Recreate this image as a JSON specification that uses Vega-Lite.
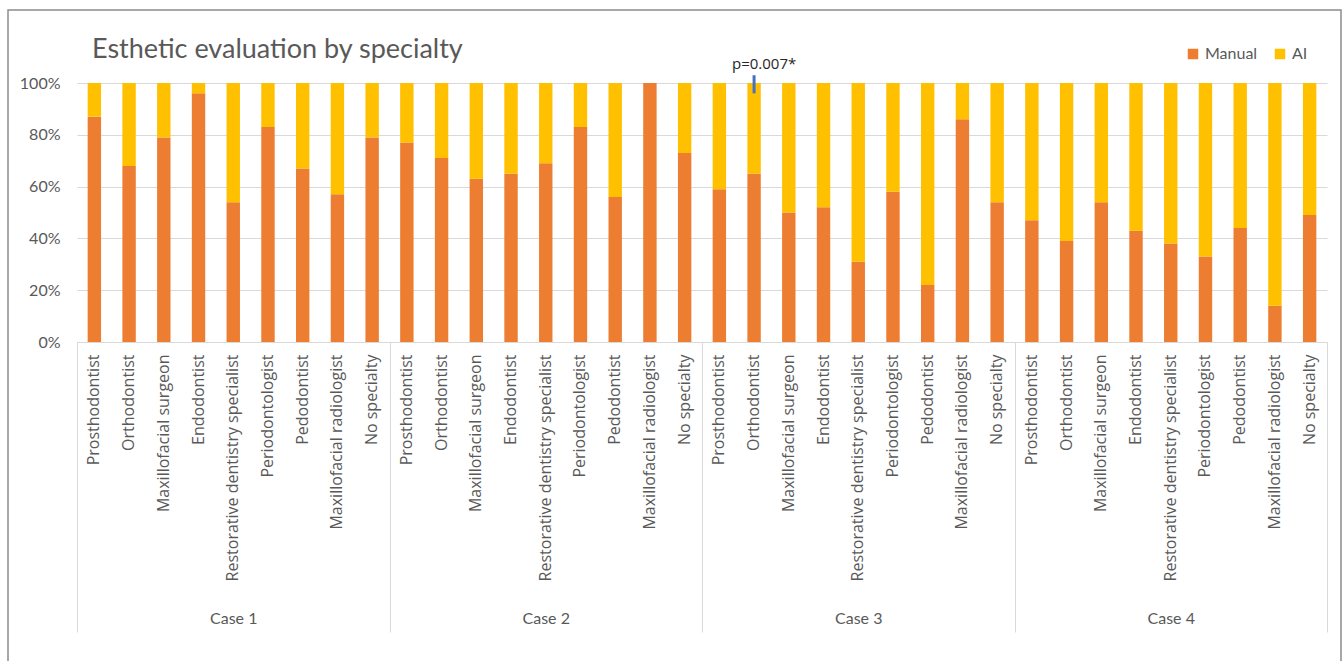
{
  "$schema": "https://vega.github.io/schema/vega-lite/v6.json",
  "width": 1250,
  "height": 259,
  "autosize": {"type": "none"},
  "padding": {"left": 77, "top": 83, "right": 16, "bottom": 319},
  "background": "white",
  "title": {
    "text": "Esthetic evaluation by specialty",
    "anchor": "start",
    "frame": "group",
    "dx": 15,
    "offset": -76,
    "baseline": "alphabetic",
    "font": "Lato",
    "fontSize": 27,
    "fontWeight": "normal",
    "color": "#595959"
  },
  "data": {
    "values": [
      {"bar": "Case 1 · Prosthodontist", "case": "Case 1", "Manual": 87, "AI": 13},
      {"bar": "Case 1 · Orthodontist", "case": "Case 1", "Manual": 68, "AI": 32},
      {"bar": "Case 1 · Maxillofacial surgeon", "case": "Case 1", "Manual": 79, "AI": 21},
      {"bar": "Case 1 · Endodontist", "case": "Case 1", "Manual": 96, "AI": 4},
      {"bar": "Case 1 · Restorative dentistry specialist", "case": "Case 1", "Manual": 54, "AI": 46},
      {"bar": "Case 1 · Periodontologist", "case": "Case 1", "Manual": 83, "AI": 17},
      {"bar": "Case 1 · Pedodontist", "case": "Case 1", "Manual": 67, "AI": 33},
      {"bar": "Case 1 · Maxillofacial radiologist", "case": "Case 1", "Manual": 57, "AI": 43},
      {"bar": "Case 1 · No specialty", "case": "Case 1", "Manual": 79, "AI": 21},
      {"bar": "Case 2 · Prosthodontist", "case": "Case 2", "Manual": 77, "AI": 23},
      {"bar": "Case 2 · Orthodontist", "case": "Case 2", "Manual": 71, "AI": 29},
      {"bar": "Case 2 · Maxillofacial surgeon", "case": "Case 2", "Manual": 63, "AI": 37},
      {"bar": "Case 2 · Endodontist", "case": "Case 2", "Manual": 65, "AI": 35},
      {"bar": "Case 2 · Restorative dentistry specialist", "case": "Case 2", "Manual": 69, "AI": 31},
      {"bar": "Case 2 · Periodontologist", "case": "Case 2", "Manual": 83, "AI": 17},
      {"bar": "Case 2 · Pedodontist", "case": "Case 2", "Manual": 56, "AI": 44},
      {"bar": "Case 2 · Maxillofacial radiologist", "case": "Case 2", "Manual": 100, "AI": 0},
      {"bar": "Case 2 · No specialty", "case": "Case 2", "Manual": 73, "AI": 27},
      {"bar": "Case 3 · Prosthodontist", "case": "Case 3", "Manual": 59, "AI": 41},
      {"bar": "Case 3 · Orthodontist", "case": "Case 3", "Manual": 65, "AI": 35},
      {"bar": "Case 3 · Maxillofacial surgeon", "case": "Case 3", "Manual": 50, "AI": 50},
      {"bar": "Case 3 · Endodontist", "case": "Case 3", "Manual": 52, "AI": 48},
      {"bar": "Case 3 · Restorative dentistry specialist", "case": "Case 3", "Manual": 31, "AI": 69},
      {"bar": "Case 3 · Periodontologist", "case": "Case 3", "Manual": 58, "AI": 42},
      {"bar": "Case 3 · Pedodontist", "case": "Case 3", "Manual": 22, "AI": 78},
      {"bar": "Case 3 · Maxillofacial radiologist", "case": "Case 3", "Manual": 86, "AI": 14},
      {"bar": "Case 3 · No specialty", "case": "Case 3", "Manual": 54, "AI": 46},
      {"bar": "Case 4 · Prosthodontist", "case": "Case 4", "Manual": 47, "AI": 53},
      {"bar": "Case 4 · Orthodontist", "case": "Case 4", "Manual": 39, "AI": 61},
      {"bar": "Case 4 · Maxillofacial surgeon", "case": "Case 4", "Manual": 54, "AI": 46},
      {"bar": "Case 4 · Endodontist", "case": "Case 4", "Manual": 43, "AI": 57},
      {"bar": "Case 4 · Restorative dentistry specialist", "case": "Case 4", "Manual": 38, "AI": 62},
      {"bar": "Case 4 · Periodontologist", "case": "Case 4", "Manual": 33, "AI": 67},
      {"bar": "Case 4 · Pedodontist", "case": "Case 4", "Manual": 44, "AI": 56},
      {"bar": "Case 4 · Maxillofacial radiologist", "case": "Case 4", "Manual": 14, "AI": 86},
      {"bar": "Case 4 · No specialty", "case": "Case 4", "Manual": 49, "AI": 51}
    ]
  },
  "transform": [{"fold": ["Manual", "AI"], "as": ["series", "pct"]}],
  "layer": [
    {
      "layer": [
        {
          "mark": {"type": "bar"},
          "encoding": {
            "x": {
              "field": "bar",
              "type": "nominal",
              "sort": null,
              "scale": {"type": "band", "paddingInner": 0.614, "paddingOuter": 0.307},
              "axis": {
                "orient": "bottom",
                "title": null,
                "grid": false,
                "ticks": false,
                "domain": true,
                "domainColor": "#d9d9d9",
                "domainWidth": 1,
                "labelAngle": -90,
                "labelPadding": 12,
                "labelLimit": 400,
                "labelFont": "Open Sans",
                "labelFontSize": 16,
                "labelColor": "#595959",
                "labelExpr": "split(datum.label, ' · ')[1]"
              }
            },
            "y": {
              "field": "pct",
              "type": "quantitative",
              "stack": "normalize",
              "scale": {"domain": [0, 1], "nice": false},
              "axis": {
                "title": null,
                "values": [0, 0.2, 0.4, 0.6, 0.8, 1],
                "format": ".0%",
                "grid": true,
                "gridColor": "#d9d9d9",
                "domain": false,
                "ticks": false,
                "labelPadding": 17,
                "labelFont": "Lato",
                "labelFontSize": 16,
                "labelColor": "#595959"
              }
            },
            "color": {
              "field": "series",
              "type": "nominal",
              "scale": {"domain": ["Manual", "AI"], "range": ["#ED7D31", "#FFC000"]},
              "legend": {
                "title": null,
                "orient": "none",
                "direction": "horizontal",
                "legendX": 1108,
                "legendY": -37,
                "symbolType": "square",
                "symbolSize": 110,
                "symbolStrokeWidth": 0,
                "labelFont": "Lato",
                "labelFontSize": 16,
                "labelColor": "#595959",
                "columnPadding": 14,
                "labelOffset": 4
              }
            },
            "order": {"field": "series", "sort": "descending"}
          }
        },
        {
          "data": {"values": [{"bar": "Case 3 · Orthodontist", "note": "p=0.007*"}]},
          "mark": {"type": "text", "font": "Open Sans", "fontSize": 15, "color": "#262626", "baseline": "middle", "dx": 10},
          "encoding": {
            "x": {"field": "bar", "type": "nominal", "sort": null},
            "y": {"datum": 1.073, "type": "quantitative", "scale": {"domain": [0, 1], "nice": false}},
            "text": {"field": "note"}
          }
        },
        {
          "data": {"values": [{"bar": "Case 3 · Orthodontist"}]},
          "mark": {"type": "rule", "color": "#4472C4", "strokeWidth": 3},
          "encoding": {
            "x": {"field": "bar", "type": "nominal", "sort": null},
            "y": {"datum": 1.03, "type": "quantitative", "scale": {"domain": [0, 1], "nice": false}},
            "y2": {"datum": 0.96}
          }
        }
      ]
    },
    {
      "mark": {"type": "rule", "strokeOpacity": 0},
      "encoding": {
        "x": {
          "field": "case",
          "type": "nominal",
          "sort": null,
          "scale": {"type": "band", "paddingInner": 0, "paddingOuter": 0},
          "axis": {
            "orient": "bottom",
            "title": null,
            "grid": false,
            "domain": false,
            "ticks": true,
            "tickBand": "extent",
            "tickSize": 290,
            "tickColor": "#d9d9d9",
            "labelAngle": 0,
            "labelPadding": -22,
            "labelFont": "Lato",
            "labelFontSize": 16,
            "labelColor": "#595959"
          }
        }
      }
    },
    {
      "data": {"values": [{"frame": "chart area"}]},
      "mark": {"type": "rect", "fill": null, "stroke": "#8c8c8c", "strokeWidth": 1.5},
      "encoding": {
        "x": {"datum": -0.0552, "type": "quantitative", "scale": {"domain": [0, 1], "nice": false, "zero": false}, "axis": null},
        "x2": {"datum": 1.0112},
        "y": {"datum": 1.282, "type": "quantitative", "scale": {"domain": [0, 1], "nice": false}},
        "y2": {"datum": -1.3}
      }
    }
  ],
  "resolve": {"scale": {"x": "independent"}, "axis": {"x": "independent"}},
  "config": {"view": {"stroke": null}}
}
